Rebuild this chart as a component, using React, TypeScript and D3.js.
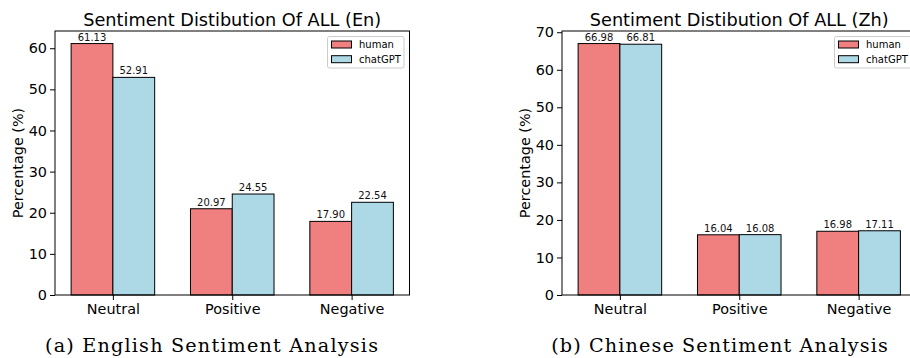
import React, { useRef, useEffect } from 'react';
import * as d3 from 'd3';

const categories = ["Neutral", "Positive", "Negative"];
const seriesNames = ["human", "chatGPT"];
const seriesColors = ["#F08080", "#ADD8E6"];

const humanEn = [61.13, 20.97, 17.90];
const chatgptEn = [52.91, 24.55, 22.54];
const humanZh = [66.98, 16.04, 16.98];
const chatgptZh = [66.81, 16.08, 17.11];

const yTicksEn = [0, 10, 20, 30, 40, 50, 60];
const yTicksZh = [0, 10, 20, 30, 40, 50, 60, 70];

const panels = [
    { title: "Sentiment Distibution Of ALL (En)", caption: "(a) English Sentiment Analysis", series: [humanEn, chatgptEn], ticks: yTicksEn },
    { title: "Sentiment Distibution Of ALL (Zh)", caption: "(b) Chinese Sentiment Analysis", series: [humanZh, chatgptZh], ticks: yTicksZh },
];

const App = () => {

    const ref = useRef(null);

    useEffect(() => {

        document.body.style.margin = "0";

        var width = 910, height = 358;
        var barW = 0.35;
        var font = "DejaVu Sans";

        var root = d3.select(ref.current);
        root.selectAll("*").remove();

        var svg = root.append("svg")
            .attr("width", width)
            .attr("height", height)
            .style("display", "block")
            .style("background", "white");

        // axes boxes, in pixels
        var boxes = [
            { left: 55, top: 31, w: 354.5, h: 264, capX: 211.5, capW: 333 },
            { left: 562, top: 31, w: 354.5, h: 264, capX: 719.5, capW: 336.5 },
        ];

        panels.forEach((p, k) => {
            var b = boxes[k];
            var n = categories.length;
            var span = (n - 1) + 2 * barW;
            var pad = span * 0.05;
            var ymax = d3.max(p.series.flat()) * 1.05;

            var x = d3.scaleLinear().domain([-barW - pad, n - 1 + barW + pad]).range([b.left, b.left + b.w]);
            var y = d3.scaleLinear().domain([0, ymax]).range([b.top + b.h, b.top]);

            var g = svg.append("g");

            // bars
            p.series.forEach((vals, s) => {
                g.selectAll("rect.s" + s)
                    .data(vals)
                    .enter().append("rect")
                    .attr("class", "s" + s)
                    .attr("x", (d, i) => x(i - barW + s * barW))
                    .attr("y", d => y(d))
                    .attr("width", x(barW) - x(0))
                    .attr("height", d => y(0) - y(d))
                    .attr("fill", seriesColors[s])
                    .attr("stroke", "black")
                    .attr("stroke-width", 1);

                g.selectAll("text.v" + s)
                    .data(vals)
                    .enter().append("text")
                    .attr("class", "v" + s)
                    .attr("x", (d, i) => x(i - barW / 2 + s * barW))
                    .attr("y", d => y(d) - 3)
                    .attr("text-anchor", "middle")
                    .style("font-family", font)
                    .style("font-size", "10px")
                    .attr("fill", "#111")
                    .text(d => d.toFixed(2));
            });

            // frame
            g.append("rect")
                .attr("x", b.left)
                .attr("y", b.top)
                .attr("width", b.w)
                .attr("height", b.h)
                .attr("fill", "none")
                .attr("stroke", "black")
                .attr("stroke-width", 1);

            // y axis
            var yAxis = g.append("g")
                .attr("transform", "translate(" + b.left + ",0)")
                .call(d3.axisLeft(y).tickValues(p.ticks).tickSize(5).tickPadding(3).tickFormat(d3.format("d")));
            yAxis.select(".domain").remove();
            yAxis.selectAll("text").style("font-family", font).style("font-size", "14.4px").attr("fill", "black");
            yAxis.selectAll("line").attr("stroke", "black");

            // x axis
            var xAxis = g.append("g")
                .attr("transform", "translate(0," + (b.top + b.h) + ")")
                .call(d3.axisBottom(x).tickValues(d3.range(n)).tickSize(5).tickPadding(4).tickFormat(i => categories[i]));
            xAxis.select(".domain").remove();
            xAxis.selectAll("text").style("font-family", font).style("font-size", "14.4px").attr("fill", "black");
            xAxis.selectAll("line").attr("stroke", "black");

            // y label
            g.append("text")
                .attr("transform", "translate(" + (b.left - 32.5) + "," + (b.top + b.h / 2) + ") rotate(-90)")
                .attr("text-anchor", "middle")
                .style("font-family", font)
                .style("font-size", "14.4px")
                .text("Percentage (%)");

            // title
            g.append("text")
                .attr("x", b.left + b.w / 2)
                .attr("y", 26)
                .attr("text-anchor", "middle")
                .style("font-family", font)
                .style("font-size", "17.7px")
                .text(p.title);

            // legend
            var lw = 76.5, lh = 31.5;
            var lx = b.left + b.w - 5.5 - lw, ly = b.top + 5.5;
            var leg = g.append("g");
            leg.append("rect")
                .attr("x", lx).attr("y", ly)
                .attr("width", lw).attr("height", lh)
                .attr("rx", 2)
                .attr("fill", "white").attr("fill-opacity", 0.8)
                .attr("stroke", "#cccccc").attr("stroke-width", 1);
            seriesNames.forEach((name, s) => {
                var cy = ly + 8 + s * 14.7;
                leg.append("rect")
                    .attr("x", lx + 4).attr("y", cy - 3.5)
                    .attr("width", 20).attr("height", 7)
                    .attr("fill", seriesColors[s])
                    .attr("stroke", "black").attr("stroke-width", 1);
                leg.append("text")
                    .attr("x", lx + 31.5).attr("y", cy + 3.5)
                    .style("font-family", font)
                    .style("font-size", "10px")
                    .text(name);
            });

            // caption
            svg.append("text")
                .attr("x", b.capX)
                .attr("y", 352)
                .attr("text-anchor", "middle")
                .attr("textLength", b.capW)
                .attr("lengthAdjust", "spacing")
                .style("font-family", "DejaVu Serif")
                .style("font-size", "19.2px")
                .text(p.caption);
        });

    }, []);

    return (
        <div ref={ref} />
    );
}

export default App
